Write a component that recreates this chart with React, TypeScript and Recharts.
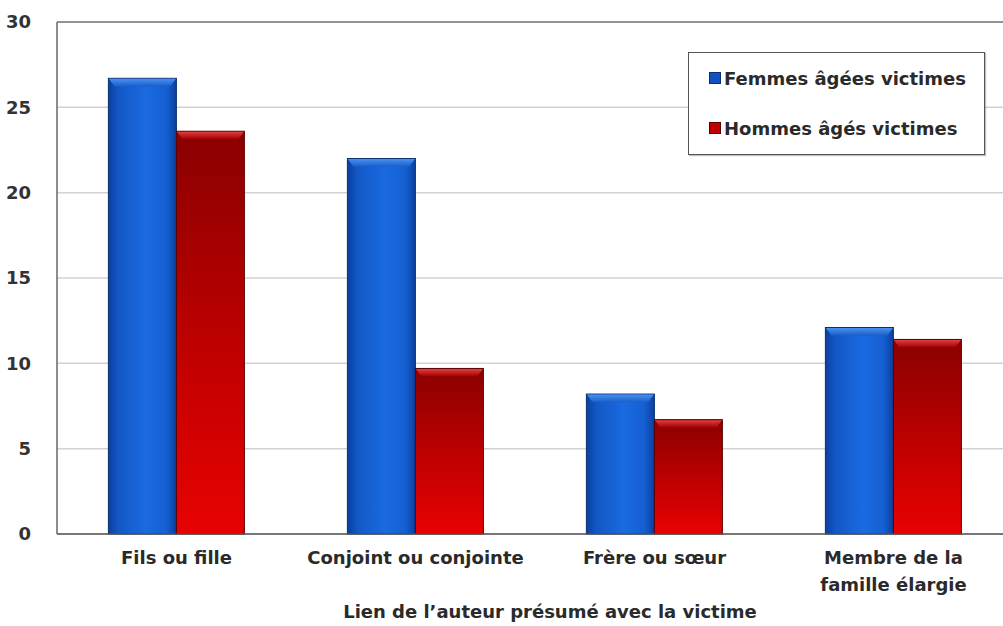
import React from 'react';
import { BarChart, Bar, XAxis, YAxis, CartesianGrid, Legend, ReferenceLine } from 'recharts';

const categories = ['Fils ou fille', 'Conjoint ou conjointe', 'Frère ou sœur', 'Membre de la\nfamille élargie'];
const femmes = [26.7, 22.0, 8.2, 12.1];
const hommes = [23.6, 9.7, 6.7, 11.4];
const yTicks = [0, 5, 10, 15, 20, 25, 30];
const boundaryTicks = [0, 1, 2, 3, 4];
const seriesNames = ['Femmes âgées victimes', 'Hommes âgés victimes'];
const xAxisTitle = 'Lien de l’auteur présumé avec la victime';

const data = categories.map((c, i) => ({ name: c, femmes: femmes[i], hommes: hommes[i] }));

const FONT = '"DejaVu Sans", Verdana, sans-serif';
const TEXT = '#2a2a2a';

const BevelBar = (props: any) => {
  const { x, y, width, height, kind } = props;
  if (!height || height <= 0) return null;
  const b = Math.min(8, height);
  const isBlue = kind === 'blue';
  const fill = isBlue ? 'url(#gBlue)' : 'url(#gRed)';
  const top = isBlue ? 'url(#gBlueTop)' : 'url(#gRedTop)';
  const edge = isBlue ? '#0a2f70' : '#5a0000';
  return (
    <g>
      <rect x={x} y={y} width={width} height={height} fill={fill} stroke={edge} strokeWidth={1} />
      <path
        d={`M${x + 0.5},${y + 0.5} L${x + width - 0.5},${y + 0.5} L${x + width - 6},${y + b} L${x + 6},${y + b} Z`}
        fill={top}
      />
    </g>
  );
};

const CatTick = (props: any) => {
  const { x, y, payload } = props;
  const lines = String(payload.value).split('\n');
  return (
    <g>
      {lines.map((l, i) => (
        <text key={i} x={x} y={y + 22 + i * 27} textAnchor="middle" fontFamily={FONT} fontSize={18} fontWeight="bold" fill={TEXT}>
          {l}
        </text>
      ))}
    </g>
  );
};

const LegendBox = (props: any) => {
  const { payload } = props;
  return (
    <div
      style={{
        width: 297,
        height: 103,
        border: '1.5px solid #555',
        background: '#fff',
        boxSizing: 'border-box',
        fontFamily: FONT,
        fontSize: 18,
        fontWeight: 'bold',
        color: TEXT,
        paddingTop: 13,
        paddingLeft: 20,
        boxShadow: '1px 1px 1px rgba(0,0,0,0.25)',
      }}
    >
      {(payload || []).map((p: any, i: number) => (
        <div key={i} style={{ display: 'flex', alignItems: 'center', height: 24, marginBottom: i === 0 ? 26 : 0, whiteSpace: 'nowrap' }}>
          <span
            style={{
              display: 'inline-block',
              width: 10,
              height: 10,
              background: p.dataKey === 'femmes' ? '#1050c0' : '#c00000',
              border: `1px solid ${p.dataKey === 'femmes' ? '#0a2f70' : '#5a0000'}`,
              marginRight: 3,
            }}
          />
          <span>{p.value}</span>
        </div>
      ))}
    </div>
  );
};

export default function App() {
  return (
    <div style={{ position: 'absolute', left: 0, top: 0, width: 1003, height: 626, overflow: 'hidden', background: '#fff' }}>
      <BarChart
        width={1020}
        height={626}
        data={data}
        margin={{ top: 22, right: 7, bottom: 0, left: 0 }}
        barCategoryGap="21.5%"
        barGap={0}
      >
        <defs>
          <linearGradient id="gBlue" x1="0" y1="0" x2="1" y2="0">
            <stop offset="0%" stopColor="#0b3f9e" />
            <stop offset="15%" stopColor="#1258c6" />
            <stop offset="55%" stopColor="#1a6ae0" />
            <stop offset="85%" stopColor="#1560d2" />
            <stop offset="100%" stopColor="#0b3f9e" />
          </linearGradient>
          <linearGradient id="gBlueTop" x1="0" y1="0" x2="0" y2="1">
            <stop offset="0%" stopColor="#4a90f0" />
            <stop offset="100%" stopColor="#1a5fc8" />
          </linearGradient>
          <linearGradient id="gRed" x1="0" y1="0" x2="0" y2="1">
            <stop offset="0%" stopColor="#8a0000" />
            <stop offset="55%" stopColor="#c00000" />
            <stop offset="100%" stopColor="#e80202" />
          </linearGradient>
          <linearGradient id="gRedTop" x1="0" y1="0" x2="0" y2="1">
            <stop offset="0%" stopColor="#e04040" />
            <stop offset="100%" stopColor="#a00000" />
          </linearGradient>
        </defs>
        <CartesianGrid vertical={false} stroke="#d2d2d2" strokeWidth={1.5} />
        <ReferenceLine y={30} stroke="#7a7a7a" strokeWidth={1.5} />
        <ReferenceLine y={0} stroke="#555" strokeWidth={1.5} />
        <XAxis
          xAxisId="b"
          type="number"
          scale="linear"
          domain={[0, 4]}
          allowDataOverflow
          ticks={boundaryTicks}
          tick={false}
          tickSize={5}
          height={0}
          axisLine={{ stroke: '#555', strokeWidth: 1.5 }}
          tickLine={{ stroke: '#555' }}
        />
        <XAxis
          xAxisId="cat"
          dataKey="name"
          height={92}
          axisLine={false}
          tickLine={false}
          tick={<CatTick />}
          interval={0}
          label={{
            value: xAxisTitle,
            position: 'insideBottom',
            offset: 8,
            dx: 15,
            style: { fontFamily: FONT, fontSize: 18, fontWeight: 'bold', fill: TEXT },
          }}
        />
        <YAxis
          domain={[0, 30]}
          ticks={yTicks}
          width={57}
          tickLine={false}
          tickMargin={20}
          axisLine={{ stroke: '#666', strokeWidth: 1.5 }}
          tick={{ fontFamily: FONT, fontSize: 18, fill: '#333', fontWeight: 'bold' }}
          interval={0}
        />
        <Legend
          layout="horizontal"
          verticalAlign="middle"
          align="center"
          content={<LegendBox />}
          wrapperStyle={{ position: 'absolute', left: 688, top: 52, width: 297, height: 103 }}
        />
        <Bar xAxisId="cat" dataKey="femmes" name={seriesNames[0]} isAnimationActive={false} shape={<BevelBar kind="blue" />} fill="#1050c0" />
        <Bar xAxisId="cat" dataKey="hommes" name={seriesNames[1]} isAnimationActive={false} shape={<BevelBar kind="red" />} fill="#c00000" />
      </BarChart>
    </div>
  );
}
